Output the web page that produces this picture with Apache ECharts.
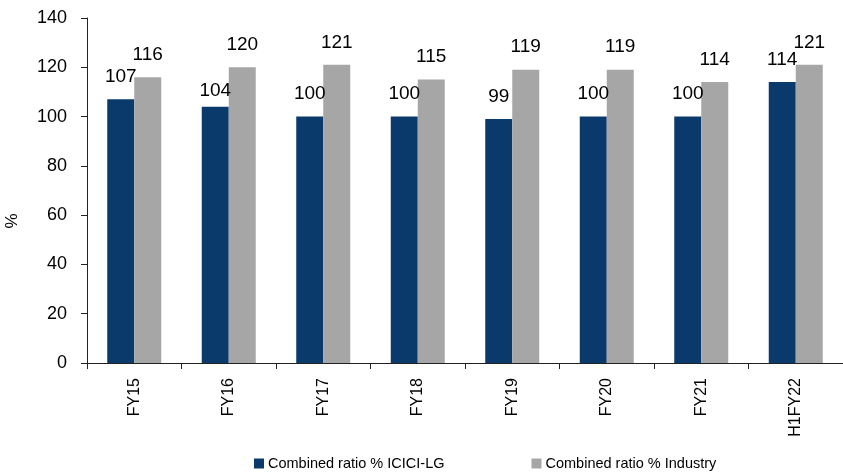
<!DOCTYPE html>
<html>
<head>
<meta charset="utf-8">
<title>Combined ratio</title>
<script src="https://cdn.jsdelivr.net/npm/echarts@6/dist/echarts.min.js"></script>
<style>
  html, body { margin: 0; padding: 0; background: #fff; }
  #chart { width: 843px; height: 474px; }
</style>
</head>
<body>
<div id="chart"></div>
<script>
// Combined ratio (%) by period: ICICI Lombard vs. industry
const categories = ['FY15', 'FY16', 'FY17', 'FY18', 'FY19', 'FY20', 'FY21', 'H1FY22'];
const iciciLG = [107, 104, 100, 100, 99, 100, 100, 114];
const industry = [116, 120, 121, 115, 119, 119, 114, 121];
const yTicks = { min: 0, max: 140, step: 20 };

const seriesNames = ['Combined ratio % ICICI-LG', 'Combined ratio % Industry'];
const NAVY = '#0a3a6b';
const GREY = '#a6a6a6';
const FONT = '"Liberation Sans", Arial, sans-serif';

const labelStyle = {
  show: true,
  position: 'top',
  distance: 13,
  color: '#000',
  fontFamily: FONT,
  fontSize: 19
};

// The FY16 ICICI-LG label sits a little closer to its bar
const iciciData = iciciLG.map((v, i) =>
  categories[i] === 'FY16' ? { value: v, label: { offset: [0, 7] } } : v
);

const chart = echarts.init(document.getElementById('chart'), null, { renderer: 'canvas' });

chart.setOption({
  animation: false,
  backgroundColor: '#fff',
  grid: { left: 87, right: -4, top: 18, bottom: 111, containLabel: false },
  legend: {
    data: seriesNames,
    left: 249,
    top: 451,
    itemWidth: 10,
    itemHeight: 10,
    itemGap: 87,
    icon: 'rect',
    textStyle: { color: '#000', fontFamily: FONT, fontSize: 14.5, padding: [0, 0, 0, -1] }
  },
  xAxis: {
    type: 'category',
    data: categories,
    axisLine: { lineStyle: { color: '#222', width: 1 } },
    axisTick: { show: true, length: 6, alignWithLabel: false, lineStyle: { color: '#222' } },
    axisLabel: {
      rotate: 90,
      margin: 15,
      color: '#000',
      fontFamily: FONT,
      fontSize: 16
    },
    splitLine: { show: false }
  },
  yAxis: {
    type: 'value',
    min: yTicks.min,
    max: yTicks.max,
    interval: yTicks.step,
    axisLine: { show: true, lineStyle: { color: '#222', width: 1 } },
    axisTick: { show: true, length: 6, lineStyle: { color: '#222' } },
    axisLabel: { margin: 20, color: '#000', fontFamily: FONT, fontSize: 18 },
    splitLine: { show: false }
  },
  graphic: [{
    type: 'text',
    x: 12,
    y: 221,
    rotation: Math.PI / 2,
    style: { text: '%', fill: '#000', font: '17px ' + FONT, textAlign: 'center', textVerticalAlign: 'middle' }
  }],
  series: [
    {
      name: seriesNames[0],
      type: 'bar',
      data: iciciData,
      barWidth: 27,
      barGap: '0%',
      itemStyle: { color: NAVY },
      label: labelStyle
    },
    {
      name: seriesNames[1],
      type: 'bar',
      data: industry,
      barWidth: 27,
      barGap: '0%',
      itemStyle: { color: GREY },
      label: labelStyle
    }
  ]
});
</script>
</body>
</html>
